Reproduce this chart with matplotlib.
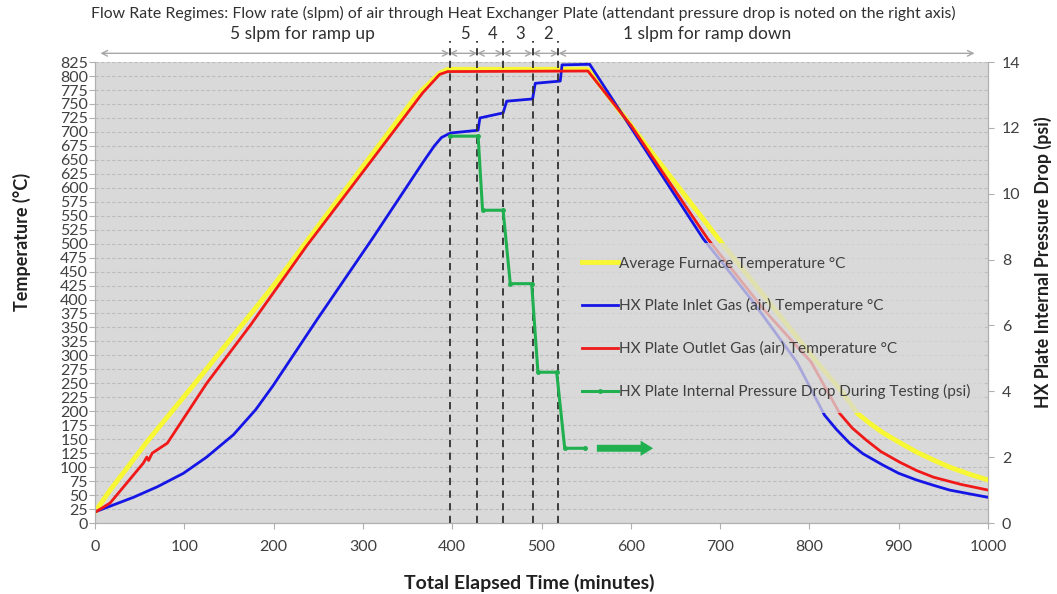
import matplotlib
matplotlib.use("Agg")
import matplotlib.pyplot as plt

plt.rcParams['font.family'] = ['Lato', 'DejaVu Sans']

# average furnace temperature (yellow)
furnace_t = [0, 17, 58, 117, 200, 300, 360, 386, 395, 550, 553, 600, 698, 760, 810, 835,
             854, 868, 883, 900, 920, 940, 957, 980, 1000]
furnace_v = [20, 59, 145, 260, 425, 638, 765, 805, 812, 812, 810, 712, 509, 385, 285, 238,
             196, 178, 161, 145, 127, 112, 100, 87, 77]

# HX plate outlet gas temperature (red)
outlet_t = [0, 2, 17, 54, 58, 60, 64, 81, 125, 174, 237, 305, 367, 386, 395, 552,
            600, 686, 750, 802, 834, 848, 864, 880, 901, 920, 939, 970, 1000]
outlet_v = [20, 21, 36, 107, 118, 112, 125, 143, 250, 354, 496, 639, 770, 803, 808, 809,
            712, 509, 380, 288, 196, 170, 148, 128, 109, 94, 82, 69, 59]

# HX plate inlet gas temperature (blue)
inlet_t = [0, 20, 43, 70, 99, 125, 155, 180, 199, 249, 311, 367, 380, 388, 398, 429, 431,
           457, 461, 490, 493, 521, 523, 554, 600, 681, 735, 786, 817, 830, 845, 860, 882,
           900, 920, 940, 957, 980, 1000]
inlet_v = [20, 32, 46, 65, 89, 118, 158, 203, 245, 365, 510, 645, 675, 690, 698, 703, 725,
           734, 755, 759, 787, 791, 820, 821, 708, 509, 400, 288, 193, 168, 143, 124, 104,
           89, 77, 67, 59, 52, 46]

# internal pressure drop (green, right axis)
press_t = [398, 429, 434, 457, 465, 489, 496, 517, 526, 549]
press_v = [11.75, 11.75, 9.5, 9.5, 7.27, 7.27, 4.58, 4.58, 2.27, 2.27]

# flow regime boundaries (minutes) and labels
bounds = [397, 428, 457, 490, 519]
regime_labels = ["5", "4", "3", "2"]
regime_label_x = [414, 445, 476, 507]

fig = plt.figure(figsize=(10.57, 5.94), dpi=100)
ax = fig.add_axes([0.0899, 0.1195, 0.8448, 0.776])
ax.set_facecolor('#d9d9d9')
ax2 = ax.twinx()

ax.plot(furnace_t, furnace_v, color='#f7f733', lw=3.5, label='Average Furnace Temperature \u00b0C', zorder=3)
ax.plot(inlet_t, inlet_v, color='#1515e6', lw=2, label='HX Plate Inlet Gas (air) Temperature \u00b0C', zorder=4)
ax.plot(outlet_t, outlet_v, color='#f01818', lw=2, label='HX Plate Outlet Gas (air) Temperature \u00b0C', zorder=5)
ax2.plot(press_t, press_v, color='#20b050', lw=2.2, marker='o', ms=2.5,
         label='HX Plate Internal Pressure Drop During Testing (psi)', zorder=3)

ax.set_xlim(0, 1000)
ax.set_ylim(0, 825)
ax2.set_ylim(0, 14)
ax.set_xticks(range(0, 1001, 100))
ax.set_yticks(range(0, 826, 25))
ax2.set_yticks(range(0, 15, 2))
ax.yaxis.grid(True, color='#bcbcbc', ls=(0, (3, 2)), lw=0.8)
ax.set_axisbelow(True)

for a in (ax, ax2):
    for s in a.spines.values():
        s.set_color('#b0b0b0')
    a.spines['top'].set_visible(False)
    a.tick_params(colors='#b0b0b0', labelcolor='#404040', labelsize=11.5, length=4)
ax.tick_params(axis='y', labelsize=11.5, pad=1)
ax.tick_params(axis='x', pad=8)
ax2.tick_params(axis='y', pad=6)

ax.set_xlabel('Total Elapsed Time (minutes)', fontsize=14, fontweight='bold', color='#202020')
ax.xaxis.set_label_coords(0.486, -0.13)
ax.set_ylabel('Temperature (\u00b0C)', fontsize=13, fontweight='bold', color='#202020')
ax.yaxis.set_label_coords(-0.082, 0.61)
ax2.set_ylabel('HX Plate Internal Pressure Drop (psi)', fontsize=12.8, fontweight='bold', color='#202020')
ax2.yaxis.set_label_coords(1.062, 0.565)
for lbl in (ax.xaxis.label, ax.yaxis.label, ax2.yaxis.label):
    lbl.set_ha('center')
    lbl.set_va('center')

# regime boundaries
for b in bounds:
    ax.axvline(b, ymin=0, ymax=1.045, color='#303030', ls=(0, (4, 3)), lw=1.3, clip_on=False, zorder=6)

# arrows along the top
tr = ax.get_xaxis_transform()
edges = [6] + bounds + [985]
for x0, x1 in zip(edges[:-1], edges[1:]):
    ax.annotate('', xy=(x1, 1.019), xytext=(x0, 1.019), xycoords=tr, textcoords=tr,
                arrowprops=dict(arrowstyle='<->', color='#a6a6a6', lw=1, shrinkA=0, shrinkB=0))
for lab, x in zip(regime_labels, regime_label_x):
    ax.text(x, 1.06, lab, transform=tr, ha='center', va='center', fontsize=12, color='#303030')
ax.text(232, 1.06, '5 slpm for ramp up', transform=tr, ha='center', va='center', fontsize=12.5, color='#303030')
ax.text(685, 1.06, '1 slpm for ramp down', transform=tr, ha='center', va='center', fontsize=12.5, color='#303030')
fig.text(0.495, 0.978, 'Flow Rate Regimes: Flow rate (slpm) of air through Heat Exchanger Plate '
         '(attendant pressure drop is noted on the right axis)', ha='center', va='center',
         fontsize=11.4, color='#303030')

# green block arrow after the last step
ax2.annotate('', xy=(625, press_v[-1]), xytext=(562, press_v[-1]),
             arrowprops=dict(arrowstyle='simple,head_width=1.1,head_length=0.9,tail_width=0.5',
                             color='#20b050', lw=0, shrinkA=0, shrinkB=0))

h1, l1 = ax.get_legend_handles_labels()
h2, l2 = ax2.get_legend_handles_labels()
leg = ax2.legend(h1 + h2, l1 + l2, loc='upper left', bbox_to_anchor=(0.53, 0.608),
                 facecolor='#d9d9d9', edgecolor='none', framealpha=0.75, fontsize=11.1,
                 labelspacing=1.8, handlelength=2.3, handletextpad=0.12, borderpad=0.9,
                 borderaxespad=0, fancybox=False)
for t in leg.get_texts():
    t.set_color('#404040')

fig.savefig('out.png', dpi=100)
